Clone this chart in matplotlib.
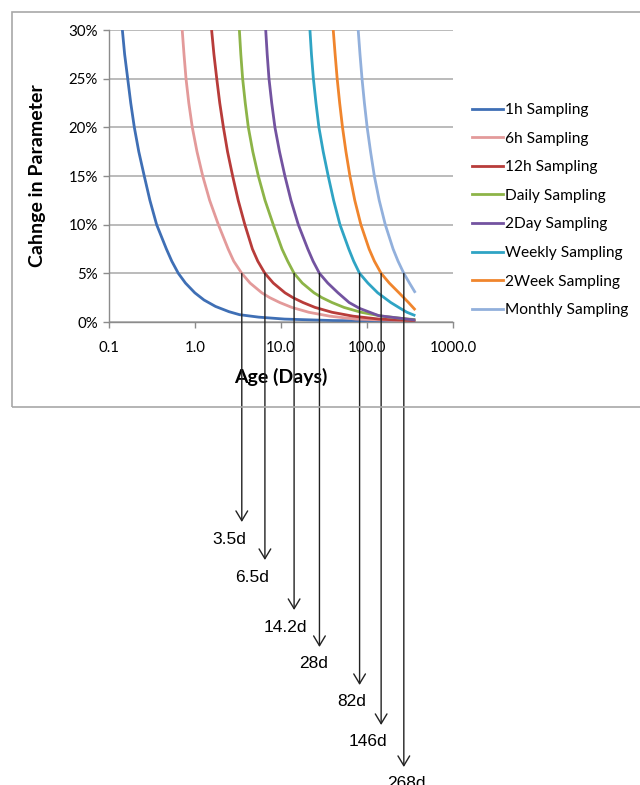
import matplotlib.pyplot as plt
from matplotlib.patches import Rectangle
from matplotlib.lines import Line2D

# series names and colours (Excel 2007 palette)
series = ['1h Sampling', '6h Sampling', '12h Sampling', 'Daily Sampling',
          '2Day Sampling', 'Weekly Sampling', '2Week Sampling', 'Monthly Sampling']
colors = ['#3f6fb5', '#e39a9a', '#b83c3a', '#8db448',
          '#7353a0', '#2fa4c4', '#f0852d', '#92b0dc']

# values: age (days) vs change in parameter (%)
days_1h = [0.143, 0.152, 0.165, 0.179, 0.197, 0.222, 0.257, 0.299, 0.358, 0.465, 0.537,
           0.64, 0.775, 0.995, 1.273, 1.731, 2.485, 3.3, 5.5, 11, 40, 365]
pct_1h = [30, 27.5, 25, 22.5, 20, 17.5, 15, 12.5, 10, 7.5, 6.25,
          5, 4, 3, 2.26, 1.6, 1.06, 0.75, 0.5, 0.3, 0.15, 0.05]

days_6h = [0.71, 0.745, 0.786, 0.847, 0.93, 1.055, 1.23, 1.48, 1.87, 2.43, 2.82,
           3.5, 4.37, 5.98, 7.41, 9.68, 13.36, 21.05, 36.9, 74.1, 365]
pct_6h = [30, 27.5, 25, 22.5, 20, 17.5, 15, 12.5, 10, 7.5, 6.25,
          5, 4, 3, 2.5, 2.0, 1.5, 1.0, 0.6, 0.3, 0.1]

days_12h = [1.56, 1.66, 1.79, 1.94, 2.14, 2.39, 2.74, 3.18, 3.8, 4.65, 5.37,
            6.5, 8.14, 11.13, 13.79, 18.03, 24.85, 39.2, 68.7, 137.9, 365]
pct_12h = [30, 27.5, 25, 22.5, 20, 17.5, 15, 12.5, 10, 7.5, 6.25,
           5, 4, 3, 2.5, 2.0, 1.5, 1.0, 0.6, 0.3, 0.12]

days_1d = [3.28, 3.41, 3.58, 3.84, 4.17, 4.70, 5.45, 6.52, 8.13, 10.27, 11.96,
           14.2, 17.69, 24.2, 29.97, 39.2, 54.0, 85.1, 149.4, 299.7, 365]
pct_1d = [30, 27.5, 25, 22.5, 20, 17.5, 15, 12.5, 10, 7.5, 6.25,
          5, 4, 3, 2.5, 2.0, 1.5, 1.0, 0.6, 0.3, 0.25]

days_2d = [6.64, 6.91, 7.25, 7.80, 8.5, 9.61, 11.1, 13.06, 15.9, 20.5, 23.6,
           28, 35.0, 46, 62, 82, 137, 365]
pct_2d = [30, 27.5, 25, 22.5, 20, 17.5, 15, 12.5, 10, 7.5, 6.25,
          5, 4, 3, 2.0, 1.4, 0.65, 0.2]

days_1w = [21.7, 22.6, 23.8, 25.5, 27.6, 30.96, 35.4, 40.9, 48.5, 61.4, 70.0,
           82, 102.4, 133.2, 189.1, 243.9, 291.1, 365]
pct_1w = [30, 27.5, 25, 22.5, 20, 17.5, 15, 12.5, 10, 7.5, 6.25,
          5, 4, 3, 2.0, 1.4, 1.0, 0.65]

days_2w = [40.5, 42.6, 45.0, 48.1, 51.9, 56.9, 63.3, 72.1, 84.9, 105.8, 121.9,
           146, 181.7, 235.5, 303.8, 365]
pct_2w = [30, 27.5, 25, 22.5, 20, 17.5, 15, 12.5, 10, 7.5, 6.25,
          5, 4, 3, 2.0, 1.23]

days_1m = [79, 82.9, 87.5, 93.3, 100.4, 110.0, 121.7, 138.7, 163.2, 201.2, 229.6,
           268, 312, 365]
pct_1m = [30, 27.5, 25, 22.5, 20, 17.5, 15, 12.5, 10, 7.5, 6.25,
          5, 4, 3.0]

all_days = [days_1h, days_6h, days_12h, days_1d, days_2d, days_1w, days_2w, days_1m]
all_pct = [pct_1h, pct_6h, pct_12h, pct_1d, pct_2d, pct_1w, pct_2w, pct_1m]

# 5% crossing ages marked with arrows
arrow_days = [3.5, 6.5, 14.2, 28, 82, 146, 268]
arrow_labels = ['3.5d', '6.5d', '14.2d', '28d', '82d', '146d', '268d']

y_ticks = [0, 5, 10, 15, 20, 25, 30]
y_ticklabels = ['0%', '5%', '10%', '15%', '20%', '25%', '30%']
x_ticks = [0.1, 1, 10, 100, 1000]
x_ticklabels = ['0.1', '1.0', '10.0', '100.0', '1000.0']

# layout (pixels)
W, H = 640, 785
tip_px = [522, 560, 610, 647, 685, 725, 767]
label_dx = [-12, -13, -9, -6, -8, -13, 3]

plt.rcParams['font.family'] = ['Lato', 'DejaVu Sans']

fig = plt.figure(figsize=(W / 100, H / 100), dpi=100)
fig.patches.append(Rectangle((12 / W, 1 - 407 / H), 640 / W, 395 / H,
                             transform=fig.transFigure, fill=False,
                             edgecolor='#a8a8a8', lw=1.2))

ax = fig.add_axes([109 / W, 1 - 322 / H, 344 / W, 292 / H])

for d, p, c in zip(all_days, all_pct, colors):
    ax.plot(d, p, color=c, lw=2.0, solid_capstyle='butt', solid_joinstyle='round')

ax.set_xscale('log')
ax.set_xlim(0.1, 1000)
ax.set_ylim(0, 30)
ax.set_xticks(x_ticks)
ax.set_xticklabels(x_ticklabels)
ax.minorticks_off()
ax.set_yticks(y_ticks)
ax.set_yticklabels(y_ticklabels)
ax.grid(True, axis='y', color='#b5b5b5', lw=1.3)
ax.set_axisbelow(True)
for s in ['top', 'right']:
    ax.spines[s].set_visible(False)
for s in ['left', 'bottom']:
    ax.spines[s].set_color('#8c8c8c')
    ax.spines[s].set_linewidth(1.0)
ax.tick_params(axis='y', length=4, width=1, color='#8c8c8c', pad=4, labelsize=10.8)
ax.tick_params(axis='x', length=4, width=1, color='#8c8c8c', pad=10, labelsize=10.8)

ax.text(0.5, (322 - 377) / 292, 'Age (Days)', transform=ax.transAxes,
        ha='center', va='center', fontsize=14, fontweight='bold')
ax.text((38 - 109) / 344, 0.5, 'Cahnge in Parameter', transform=ax.transAxes,
        ha='center', va='center', rotation=90, fontsize=14, fontweight='bold')

handles = [Line2D([], [], color=c, lw=2.0) for c in colors]
fig.legend(handles, series, loc='upper left',
           bbox_to_anchor=(472 / W, 1 - 103 / H), frameon=False,
           handlelength=2.0, handletextpad=0.15, labelspacing=0.94,
           borderpad=0, borderaxespad=0, fontsize=11.2)

for d, lab, tip, dx in zip(arrow_days, arrow_labels, tip_px, label_dx):
    ax.annotate('', xy=(d, H - tip), xycoords=('data', 'figure pixels'),
                xytext=(d, 5), textcoords='data', annotation_clip=False,
                arrowprops=dict(arrowstyle='->,head_length=0.7,head_width=0.42',
                                color='#222222', lw=1.0, shrinkA=0, shrinkB=0,
                                mutation_scale=10))
    ax.annotate(lab, xy=(d, H - tip), xycoords=('data', 'figure pixels'),
                xytext=(dx, -17), textcoords='offset pixels', annotation_clip=False,
                ha='center', va='center', fontsize=12.5, family='Liberation Sans')

fig.savefig('out.png', dpi=100)
